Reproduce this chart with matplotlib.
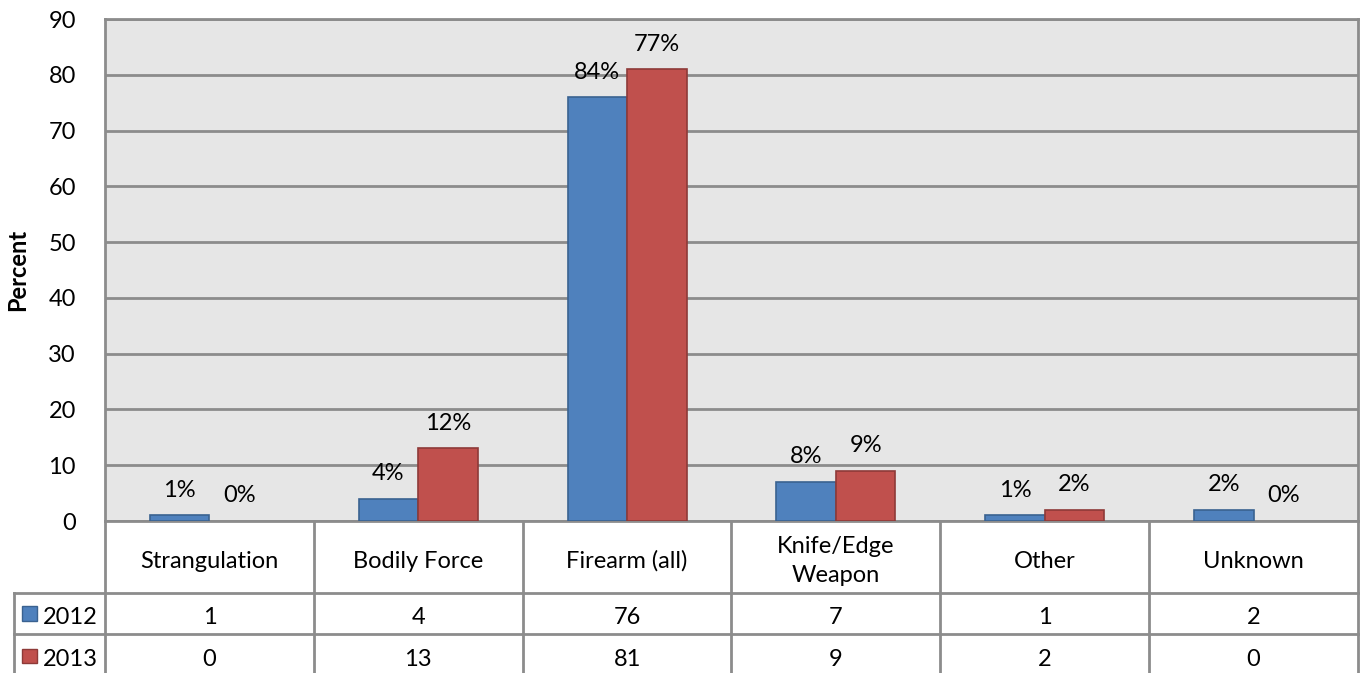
import matplotlib.pyplot as plt
import numpy as np

categories = ["Strangulation", "Bodily Force", "Firearm (all)", "Knife/Edge\nWeapon", "Other", "Unknown"]
series_names = ["2012", "2013"]
values_2012 = [1, 4, 76, 7, 1, 2]
values_2013 = [0, 13, 81, 9, 2, 0]
labels_2012 = ["1%", "4%", "84%", "8%", "1%", "2%"]
labels_2013 = ["0%", "12%", "77%", "9%", "2%", "0%"]

plt.rcParams['font.family'] = ['Lato', 'DejaVu Sans']

blue, blue_edge = "#4f81bd", "#3a6290"
red, red_edge = "#c0504d", "#8e3a38"
grid_col = "#8c8c8c"
fs = 17

fig = plt.figure(figsize=(13.6, 6.73), dpi=100)
ax = fig.add_axes([105 / 1360, 1 - 521 / 673, 1253 / 1360, 502 / 673])
ax.set_facecolor("#e6e6e6")

x = np.arange(len(categories))
w = 0.285
b1 = ax.bar(x - w / 2, values_2012, w, color=blue, edgecolor=blue_edge, linewidth=1.2, zorder=3)
b2 = ax.bar(x + w / 2, values_2013, w, color=red, edgecolor=red_edge, linewidth=1.2, zorder=3)

for bars, labs in ((b1, labels_2012), (b2, labels_2013)):
    for rect, lab in zip(bars, labs):
        if rect.get_height() == 0:
            rect.set_visible(False)
        ax.annotate(lab, (rect.get_x() + rect.get_width() / 2, rect.get_height()),
                    xytext=(0, 18), textcoords="offset points",
                    ha="center", va="center", fontsize=fs, zorder=4)

ax.set_xlim(-0.5, len(categories) - 0.5)
ax.set_ylim(0, 90)
ax.set_yticks(range(0, 91, 10))
ax.tick_params(axis="y", length=0, pad=21, labelsize=fs)
ax.set_xticks([])
ax.yaxis.grid(True, color=grid_col, linewidth=2, zorder=1)
for s in ax.spines.values():
    s.set_color(grid_col)
    s.set_linewidth(2)
ax.set_ylabel("Percent", fontweight="bold", fontsize=17)
ax.yaxis.set_label_coords(-76 / 1253, 0.5)

# data table below the plot
tr = ax.get_xaxis_transform()
y_head = -72 / 502
y_r1 = -113 / 502
y_r2 = -157 / 502
x_left = -0.5 - 91 / 208.8
n = len(categories)
dy = -4 / 502
line_kw = dict(color=grid_col, linewidth=2, transform=tr, clip_on=False)
for k in range(n + 1):
    ax.plot([k - 0.5, k - 0.5], [0, y_r2], **line_kw)
ax.plot([x_left, x_left], [y_head, y_r2], **line_kw)
ax.plot([x_left, n - 0.5], [y_head, y_head], **line_kw)
ax.plot([x_left, n - 0.5], [y_r1, y_r1], **line_kw)
ax.plot([x_left, n - 0.5], [y_r2, y_r2], **line_kw)

for i, cat in enumerate(categories):
    ax.text(i, y_head / 2 + dy, cat, transform=tr, ha="center", va="center", fontsize=fs,
            linespacing=1.45)
    ax.text(i, (y_head + y_r1) / 2 + dy, str(values_2012[i]), transform=tr,
            ha="center", va="center", fontsize=fs)
    ax.text(i, (y_r1 + y_r2) / 2 + dy, str(values_2013[i]), transform=tr,
            ha="center", va="center", fontsize=fs)

for name, yc, fc, ec in ((series_names[0], (y_head + y_r1) / 2, blue, blue_edge),
                         (series_names[1], (y_r1 + y_r2) / 2, red, red_edge)):
    ax.add_patch(plt.Rectangle((x_left + 8 / 208.8, yc - 0.014), 15 / 208.8, 0.028,
                               facecolor=fc, edgecolor=ec, linewidth=1,
                               transform=tr, clip_on=False))
    ax.text(x_left + 29 / 208.8, yc + dy, name, transform=tr, ha="left", va="center", fontsize=fs)

fig.savefig("out.png", dpi=100)
